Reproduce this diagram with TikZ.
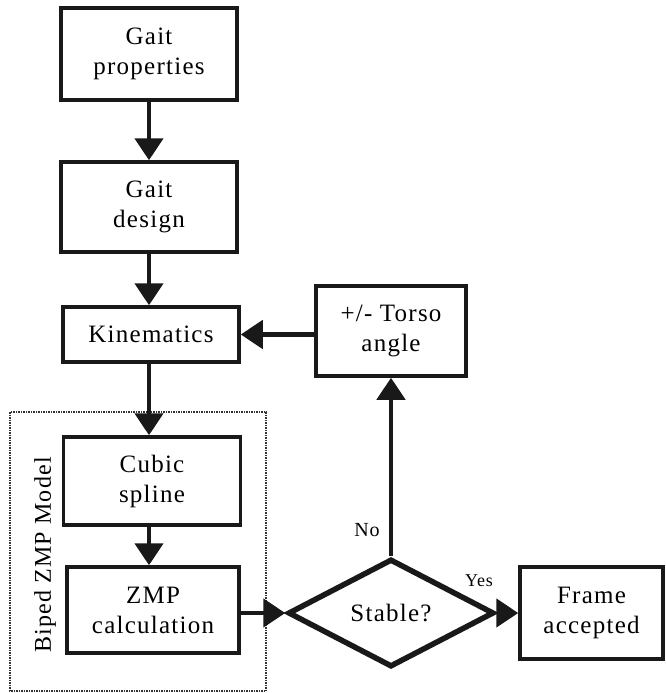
\documentclass[tikz,border=0pt]{standalone}
\usepackage{fontspec}
\setmainfont[LetterSpace=5]{Liberation Serif}
\usetikzlibrary{arrows.meta,shapes.geometric}
\begin{document}
\begin{tikzpicture}[x=1pt,y=-1pt,
  box/.style={draw=black!90, line width=3.5pt, rectangle, align=center, inner sep=0pt,
    font=\fontsize{25}{30}\selectfont},
  arr/.style={draw=black!90, line width=4.5pt, -{Triangle[width=28pt,length=22pt]}},
  lbl/.style={font=\fontsize{20}{22}\selectfont, inner sep=0pt}
]
\useasboundingbox (0,0) rectangle (665,693);
\node[box, minimum width=176pt, minimum height=92pt] (gp) at (149,54) {Gait\\properties};
\node[box, minimum width=176pt, minimum height=90pt] (gd) at (149,207) {Gait\\design};
\node[box, minimum width=176pt, minimum height=55pt] (kin) at (151,334.5) {Kinematics};
\node[box, minimum width=150pt, minimum height=90pt] (torso) at (391,331) {+/- Torso\\angle};
\node[box, minimum width=177pt, minimum height=88pt] (cubic) at (152,481) {Cubic\\spline};
\node[box, minimum width=172pt, minimum height=86pt] (zmp) at (153,610) {ZMP\\calculation};
\node[draw=black!90, line width=5.5pt, diamond, minimum width=206pt, minimum height=108pt,
  inner sep=0pt, font=\fontsize{25}{30}\selectfont] (st) at (391,613) {Stable?};
\node[box, minimum width=143pt, minimum height=92pt] (fr) at (591.5,613) {Frame\\accepted};
\draw[densely dotted, line width=1.5pt, black!80] (10,412) rectangle (266,691);
\node[rotate=90, font=\fontsize{24}{26}\selectfont, inner sep=0pt] (bzm) at (45,555) {Biped ZMP Model};
\draw[arr] (gp.south) -- (gd.north);
\draw[arr] (gd.south) -- (gd.south |- kin.north);
\draw[arr] (gd.south |- kin.south) -- (gd.south |- cubic.north);
\draw[arr] (gd.south |- cubic.south) -- (gd.south |- zmp.north);
\draw[arr] (torso.west |- kin.east) -- (kin.east);
\draw[arr] (st.north) -- (torso.south);
\draw[arr] (zmp.east |- st.west) -- (st.west);
\draw[arr] (st.east) -- (fr.west);
\node[lbl] (no) at (367,530) {No};
\node[lbl, font=\fontsize{18}{20}\selectfont] (yes) at (479,581) {Yes};
\end{tikzpicture}
\end{document}
